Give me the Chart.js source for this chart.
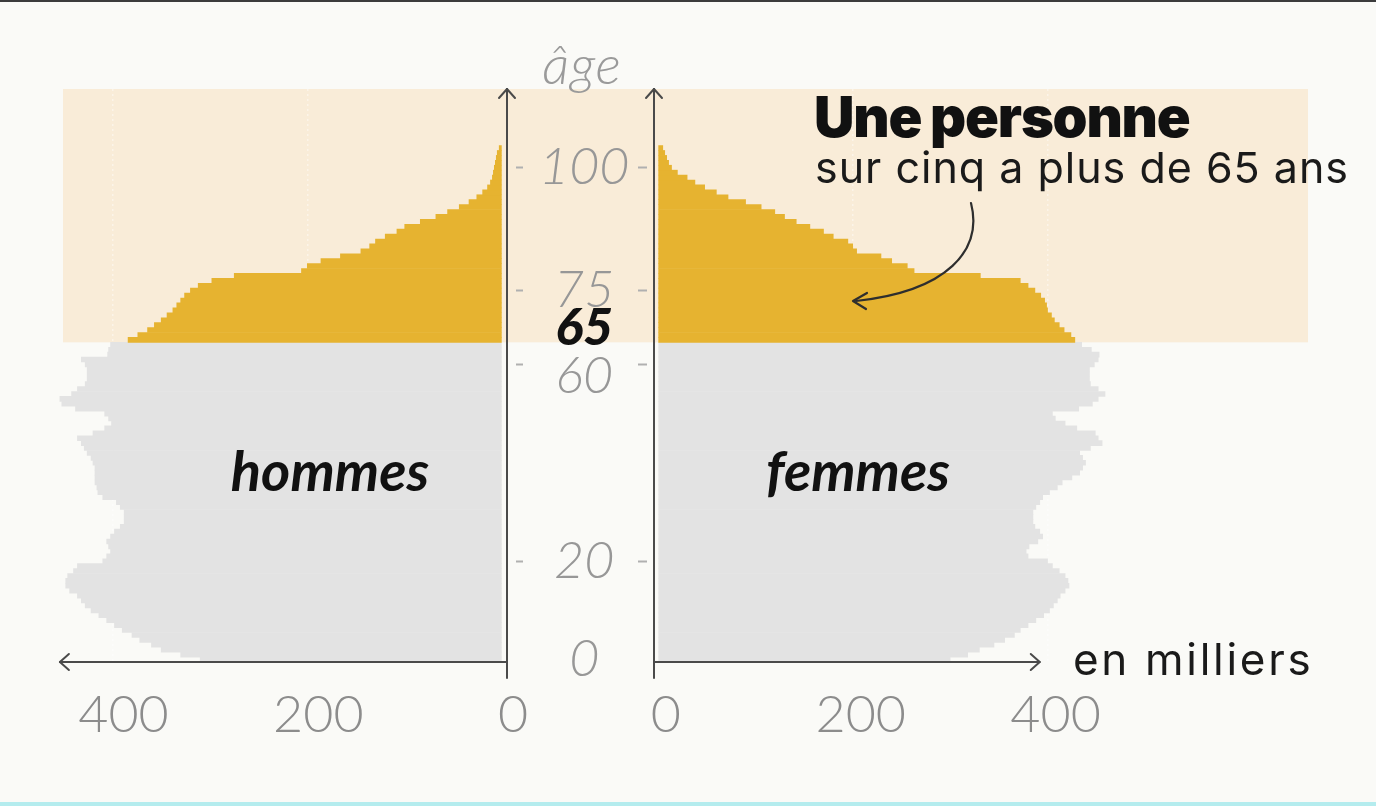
<!DOCTYPE html>
<html lang="fr">
<head>
<meta charset="utf-8">
<title>Pyramide des âges</title>
<script src="https://cdn.jsdelivr.net/npm/chart.js@4.4.1/dist/chart.umd.min.js"></script>
<style>
  html, body { margin: 0; padding: 0; background: #fafaf7; }
  #wrap { position: relative; width: 1376px; height: 806px; overflow: hidden; background: #fafaf7; }
  #topline { position: absolute; left: 0; top: 0; width: 1376px; height: 2px; background: #3c3c3c; }
  #bottomline { position: absolute; left: 0; top: 802px; width: 1376px; height: 4px; background: #b4ecee; }
  .box { position: absolute; top: 0; height: 806px; }
  #leftBox { left: 0; width: 656px; }
  #rightBox { left: 600px; width: 776px; }
  .t { position: absolute; white-space: nowrap; line-height: 1; }
  #age { left: 512px; width: 140px; top: 31px; text-align: center; font: italic 300 54px Lato, sans-serif; color: #9a9a9a; letter-spacing: 1px; }
  #hommes { left: 130px; width: 400px; top: 436px; text-align: center; font: italic 700 56px Lato, sans-serif; color: #111; }
  #femmes { left: 658px; width: 400px; top: 436px; text-align: center; font: italic 700 56px Lato, sans-serif; color: #111; }
  #titre { left: 814px; top: 83px; font: 900 56px Inter, sans-serif; color: #111; letter-spacing: -1.2px; word-spacing: -1px; }
  #sous { left: 815px; top: 141px; font: 400 43px Inter, sans-serif; color: #1a1a1a; letter-spacing: 1px; }
  #unite { left: 1073px; top: 632px; font: 400 44px Inter, sans-serif; color: #1a1a1a; letter-spacing: 2.7px; }
  svg#arrow { position: absolute; left: 0; top: 0; width: 1376px; height: 806px; pointer-events: none; }
</style>
</head>
<body>
<div id="wrap">
  <div id="topline"></div>
  <div class="box" id="leftBox"><canvas id="cvLeft"></canvas></div>
  <div class="box" id="rightBox"><canvas id="cvRight"></canvas></div>
  <div class="t" id="age">âge</div>
  <div class="t" id="hommes">hommes</div>
  <div class="t" id="femmes">femmes</div>
  <div class="t" id="titre">Une personne</div>
  <div class="t" id="sous">sur cinq a plus de 65 ans</div>
  <div class="t" id="unite">en milliers</div>
  <svg id="arrow" viewBox="0 0 1376 806">
    <path d="M 971 203 C 983 250, 948 291, 856 301" fill="none" stroke="#2e2e2e" stroke-width="2.2" stroke-linecap="round"/>
    <path d="M 867 293 L 853 301 L 866 309" fill="none" stroke="#2e2e2e" stroke-width="2.2" stroke-linecap="round" stroke-linejoin="round"/>
  </svg>
  <div id="bottomline"></div>
</div>
<script>
// ---- Data (population par âge, en milliers) ----
const MEN = [
  310, 330, 350, 360, 372, 380, 390, 398, 406, 414,
  422, 428, 432, 436, 444, 448, 448, 446, 440, 436,
  410, 406, 402, 404, 406, 402, 398, 392, 388, 388,
  388, 392, 396, 410, 415, 416, 418, 418, 418, 418,
  420, 422, 426, 429, 432, 436, 420, 408, 401, 404,
  408, 438, 452, 454, 442, 436, 428, 426, 426, 426,
  428, 432, 405, 404, 402, 384, 374, 364, 357, 350,
  344, 338, 334, 330, 326, 320, 312, 298, 275, 206,
  200, 186, 166, 145, 136, 130, 120, 108, 100, 84,
  68, 56, 44, 34, 26, 20, 15, 12, 10, 9,
  8, 7, 6, 5, 3
];
const WOMEN = [
  300, 318, 330, 345, 356, 366, 372, 380, 388, 396,
  402, 406, 410, 413, 418, 422, 421, 418, 412, 405,
  400, 380, 378, 381, 390, 395, 392, 387, 385, 385,
  385, 388, 392, 395, 402, 410, 415, 425, 433, 436,
  439, 436, 433, 444, 456, 452, 449, 430, 418, 408,
  405, 432, 446, 452, 459, 452, 444, 443, 443, 443,
  448, 452, 453, 445, 435, 428, 424, 417, 412, 407,
  404, 400, 399, 397, 393, 387, 380, 372, 331, 263,
  256, 240, 229, 204, 200, 195, 180, 170, 156, 142,
  130, 120, 106, 90, 72, 60, 48, 38, 30, 20,
  14, 11, 9, 7, 5
];
const AGES = MEN.map((_, i) => i);           // catégories : âge révolu
const Y_TICKS = [0, 20, 60, 65, 75, 100];     // graduations de l'axe des âges
const X_TICKS = [0, 200, 400];                // graduations en milliers
const SENIOR_AGE = 65;

// ---- Styles ----
const GRAY = '#e3e3e3';
const GOLD = '#e6b330';
const BAND = '#f9ecd8';
const AXIS = '#4a4a4a';
const TICK_GRAY = '#b0b0b0';
const LABEL_GRAY = '#979797';
const NUDGE_UP = [65];    // labels lifted above their tick
const NUDGE_DOWN = [60];  // labels lowered below their tick

const bandPlugin = {
  id: 'band',
  beforeDraw(chart, args, o) {
    const { ctx, chartArea, scales } = chart;
    const yb = scales.y.getPixelForValue(SENIOR_AGE - 0.5);
    ctx.save();
    ctx.fillStyle = BAND;
    ctx.fillRect(o.from, chartArea.top, o.to - o.from, yb - chartArea.top);
    ctx.restore();
  }
};

const axisPlugin = {
  id: 'axisDeco',
  afterDraw(chart, args, o) {
    const { ctx, chartArea, scales: { x } } = chart;
    const ax = o.side === 'left' ? chartArea.right : chartArea.left;
    const yb = chartArea.bottom;
    ctx.save();
    ctx.strokeStyle = AXIS;
    ctx.lineWidth = 2;
    ctx.lineCap = 'round';
    ctx.lineJoin = 'round';
    ctx.beginPath(); ctx.moveTo(ax, yb); ctx.lineTo(ax, yb + 16); ctx.stroke();
    ctx.beginPath();
    ctx.moveTo(ax - 8, chartArea.top + 9); ctx.lineTo(ax, chartArea.top); ctx.lineTo(ax + 8, chartArea.top + 9);
    ctx.stroke();
    const x1 = x.getPixelForValue(o.arrowTo);
    const dir = Math.sign(x1 - ax);
    ctx.beginPath(); ctx.moveTo(ax, yb); ctx.lineTo(x1, yb); ctx.stroke();
    ctx.beginPath();
    ctx.moveTo(x1 - dir * 9, yb - 8); ctx.lineTo(x1, yb); ctx.lineTo(x1 - dir * 9, yb + 8);
    ctx.stroke();
    ctx.restore();
  }
};

function isHidden(ctx) {
  return ctx.tick && (ctx.tick.value === 0 || ctx.tick.value === SENIOR_AGE);
}

function makeChart(canvasId, values, side) {
  const left = side === 'left';
  return new Chart(document.getElementById(canvasId), {
    type: 'bar',
    data: {
      datasets: [{
        label: left ? 'hommes' : 'femmes',
        data: AGES.map((a, i) => ({ x: values[i], y: a })),
        backgroundColor: c => AGES[c.dataIndex] >= SENIOR_AGE ? GOLD : GRAY,
        borderWidth: 0,
        barPercentage: 1,
        categoryPercentage: 1
      }]
    },
    options: {
      indexAxis: 'y',
      responsive: true,
      maintainAspectRatio: false,
      animation: false,
      events: [],
      layout: { padding: left ? { left: 56, top: 89, right: 0, bottom: 0 } : { left: 0, top: 89, right: 270, bottom: 0 } },
      plugins: {
        legend: { display: false },
        tooltip: { enabled: false },
        band: left ? { from: 63, to: 656 } : { from: 55, to: 708 },
        axisDeco: { side: side, arrowTo: left ? 454 : 392 }
      },
      scales: {
        x: {
          type: 'linear',
          reverse: left,
          min: left ? -5 : -4,
          max: left ? 458 : 460,
          z: 1,
          afterBuildTicks: s => { s.ticks = X_TICKS.map(v => ({ value: v })); },
          afterFit: s => { s.height = 144; },
          grid: {
            drawTicks: false,
            lineWidth: 1.5,
            color: c => (c.tick && c.tick.value === 0) ? 'rgba(0,0,0,0)' : 'rgba(255,255,255,0.45)'
          },
          border: { display: false, dash: [2, 3] },
          ticks: {
            padding: 22,
            labelOffset: left ? 11 : 8,
            color: '#8c8c8c',
            font: { family: 'Lato', size: 52, weight: '300' },
            callback: v => String(v)
          }
        },
        y: {
          type: 'linear',
          position: left ? 'right' : 'left',
          min: -0.5,
          max: 116,
          offset: false,
          afterBuildTicks: s => { s.ticks = Y_TICKS.map(v => ({ value: v })); },
          afterFit: s => { s.width = left ? 149 : 54; },
          grid: {
            offset: false,
            drawOnChartArea: false,
            drawTicks: true,
            tickLength: 16,
            tickWidth: 2,
            tickColor: c => isHidden(c) ? 'rgba(0,0,0,0)' : TICK_GRAY,
            tickBorderDash: left ? [0, 8, 9, 20] : [9, 20]
          },
          border: { display: true, color: AXIS, width: 2 },
          ticks: {
            display: left,
            crossAlign: 'center',
            padding: 16,
            color: c => (c.tick && c.tick.value === SENIOR_AGE) ? '#111' : LABEL_GRAY,
            font: c => {
              const v = c.tick ? c.tick.value : null;
              const nudged = NUDGE_UP.includes(v) || NUDGE_DOWN.includes(v);
              return {
                family: 'Lato', size: 52, style: 'italic',
                weight: v === SENIOR_AGE ? '900' : '300',
                lineHeight: nudged ? 0.46 : 1.2
              };
            },
            callback: v => NUDGE_UP.includes(v) ? [String(v), '']
              : NUDGE_DOWN.includes(v) ? ['', String(v)] : String(v)
          }
        }
      }
    },
    plugins: [bandPlugin, axisPlugin]
  });
}

makeChart('cvLeft', MEN, 'left');
makeChart('cvRight', WOMEN, 'right');
</script>
</body>
</html>
